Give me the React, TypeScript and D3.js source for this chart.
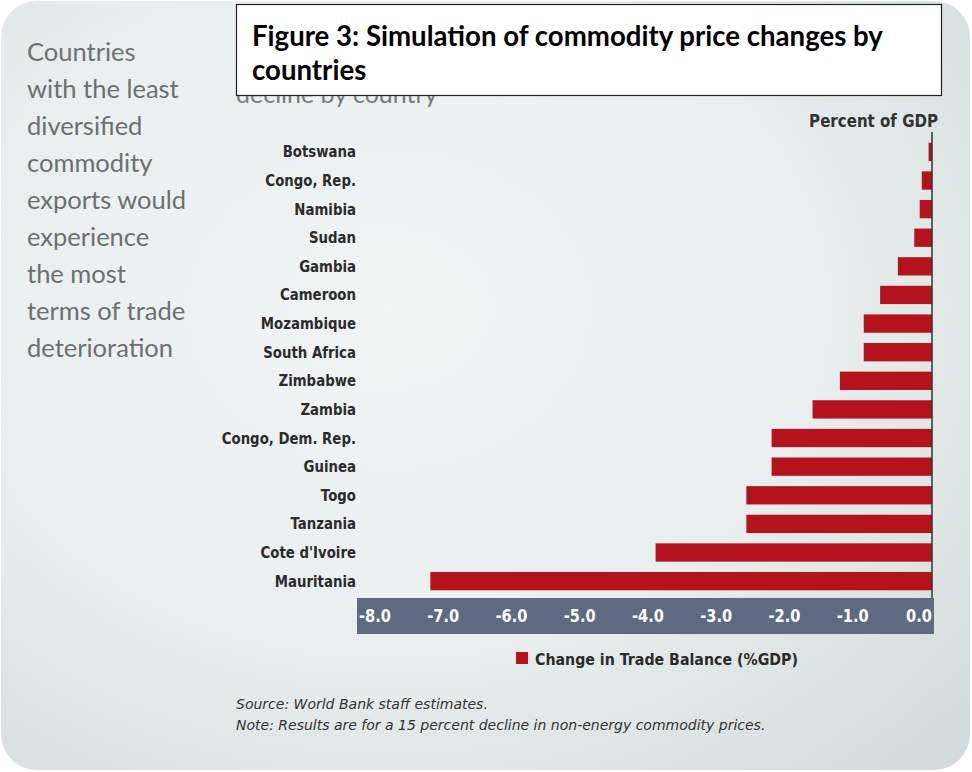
import { useEffect, useRef } from 'react';
import * as d3 from 'd3';

const countries = [
  'Botswana',
  'Congo, Rep.',
  'Namibia',
  'Sudan',
  'Gambia',
  'Cameroon',
  'Mozambique',
  'South Africa',
  'Zimbabwe',
  'Zambia',
  'Congo, Dem. Rep.',
  'Guinea',
  'Togo',
  'Tanzania',
  "Cote d'Ivoire",
  'Mauritania',
];
const tradeBalance = [
  -0.05, -0.15, -0.18, -0.26, -0.5, -0.76, -1.0, -1.0, -1.35, -1.75, -2.35,
  -2.35, -2.72, -2.72, -4.05, -7.35,
];
const xTicks = [-8, -7, -6, -5, -4, -3, -2, -1, 0];
const sideNote = [
  'Countries',
  'with the least',
  'diversified',
  'commodity',
  'exports would',
  'experience',
  'the most',
  'terms of trade',
  'deterioration',
];
const titleLines = [
  'Figure 3: Simulation of commodity price changes by',
  'countries',
];
const footnotes = [
  'Source: World Bank staff estimates.',
  'Note: Results are for a 15 percent decline in non-energy commodity prices.',
];

const W = 972;
const H = 772;
const narrow = "'DejaVu Sans', sans-serif";
const squeeze = 0.86; // fake the condensed face of the original

const App = () => {
  const ref = useRef(null);

  useEffect(() => {
    const svg = d3.select(ref.current);
    svg.selectAll('*').remove();

    // background card
    const defs = svg.append('defs');
    const grad = defs
      .append('radialGradient')
      .attr('id', 'bg')
      .attr('cx', '40%')
      .attr('cy', '40%')
      .attr('r', '80%');
    grad.append('stop').attr('offset', '0%').attr('stop-color', '#f2f4f4');
    grad.append('stop').attr('offset', '55%').attr('stop-color', '#e9eeee');
    grad.append('stop').attr('offset', '100%').attr('stop-color', '#d2dcdc');

    svg
      .append('rect')
      .attr('width', W)
      .attr('height', H)
      .attr('fill', '#ffffff');
    svg
      .append('rect')
      .attr('x', 1)
      .attr('y', 1)
      .attr('width', 969)
      .attr('height', 769)
      .attr('rx', 36)
      .attr('fill', 'url(#bg)');

    // left note
    svg
      .append('g')
      .selectAll('text')
      .data(sideNote)
      .enter()
      .append('text')
      .attr('x', 27)
      .attr('y', (_d, i) => 61 + i * 37)
      .style('font', "25.5px 'Lato', 'Open Sans', sans-serif")
      .style('fill', '#6d7070')
      .text((d) => d);

    // original subtitle, mostly hidden under the title box
    svg
      .append('text')
      .attr('x', 236)
      .attr('y', 103)
      .style('font', "25px 'Lato', sans-serif")
      .style('fill', '#7a7d7d')
      .text('decline by country');

    // scales
    const x = d3.scaleLinear().domain([-8, 0]).range([386, 932]);
    const y = d3
      .scaleBand()
      .domain(countries)
      .range([137, 596])
      .paddingInner(0.36)
      .paddingOuter(0.2);

    // axis band
    svg
      .append('rect')
      .attr('x', 357)
      .attr('y', 598)
      .attr('width', 577)
      .attr('height', 36)
      .attr('fill', '#5d6a80');

    svg
      .append('g')
      .selectAll('text')
      .data(xTicks)
      .enter()
      .append('text')
      .attr(
        'transform',
        (d) => `translate(${x(d) + (d === 0 ? 0 : 5)},622) scale(${squeeze},1)`
      )
      .attr('text-anchor', 'end')
      .style('font', `bold 17px ${narrow}`)
      .style('fill', '#ffffff')
      .text((d) => d.toFixed(1));

    // bars
    svg
      .append('g')
      .selectAll('rect')
      .data(countries)
      .enter()
      .append('rect')
      .attr('x', (_d, i) => x(tradeBalance[i]))
      .attr('y', (d) => y(d))
      .attr('width', (_d, i) => x(0) - x(tradeBalance[i]))
      .attr('height', y.bandwidth())
      .attr('fill', '#b5121b');

    // zero line
    svg
      .append('line')
      .attr('x1', x(0))
      .attr('x2', x(0))
      .attr('y1', 132)
      .attr('y2', 598)
      .attr('stroke', '#333')
      .attr('stroke-width', 1.5);

    // category labels
    svg
      .append('g')
      .selectAll('text')
      .data(countries)
      .enter()
      .append('text')
      .attr(
        'transform',
        (d) => `translate(356,${y(d) + y.bandwidth() / 2 + 5.5}) scale(${squeeze},1)`
      )
      .attr('text-anchor', 'end')
      .style('font', `bold 15.5px ${narrow}`)
      .style('fill', '#2b2b2b')
      .text((d) => d);

    svg
      .append('text')
      .attr('transform', `translate(938,127) scale(${squeeze},1)`)
      .attr('text-anchor', 'end')
      .style('font', `bold 17.5px ${narrow}`)
      .style('fill', '#333')
      .text('Percent of GDP');

    // legend
    svg
      .append('rect')
      .attr('x', 516)
      .attr('y', 652)
      .attr('width', 12)
      .attr('height', 12)
      .attr('fill', '#b5121b');
    svg
      .append('text')
      .attr('transform', `translate(535,665) scale(${squeeze},1)`)
      .style('font', `bold 16.5px ${narrow}`)
      .style('fill', '#2b2b2b')
      .text('Change in Trade Balance (%GDP)');

    // footnotes
    svg
      .append('g')
      .selectAll('text')
      .data(footnotes)
      .enter()
      .append('text')
      .attr('x', 236)
      .attr('y', (_d, i) => 709 + i * 21)
      .style('font', "italic 14px 'DejaVu Sans', sans-serif")
      .style('fill', '#333')
      .text((d) => d);

    // title box
    svg
      .append('rect')
      .attr('x', 236.5)
      .attr('y', 4.5)
      .attr('width', 705)
      .attr('height', 91)
      .attr('fill', '#ffffff')
      .attr('stroke', '#222')
      .attr('stroke-width', 1.2);
    svg
      .append('g')
      .selectAll('text')
      .data(titleLines)
      .enter()
      .append('text')
      .attr('x', 252)
      .attr('y', (_d, i) => 46 + i * 34)
      .style('font', "bold 27.6px 'Lato', 'Open Sans', sans-serif")
      .style('fill', '#000')
      .text((d) => d);
  }, []);

  return (
    <svg
      ref={ref}
      width={W}
      height={H}
      style={{ position: 'absolute', left: 0, top: 0, display: 'block' }}
    />
  );
};

export default App;
